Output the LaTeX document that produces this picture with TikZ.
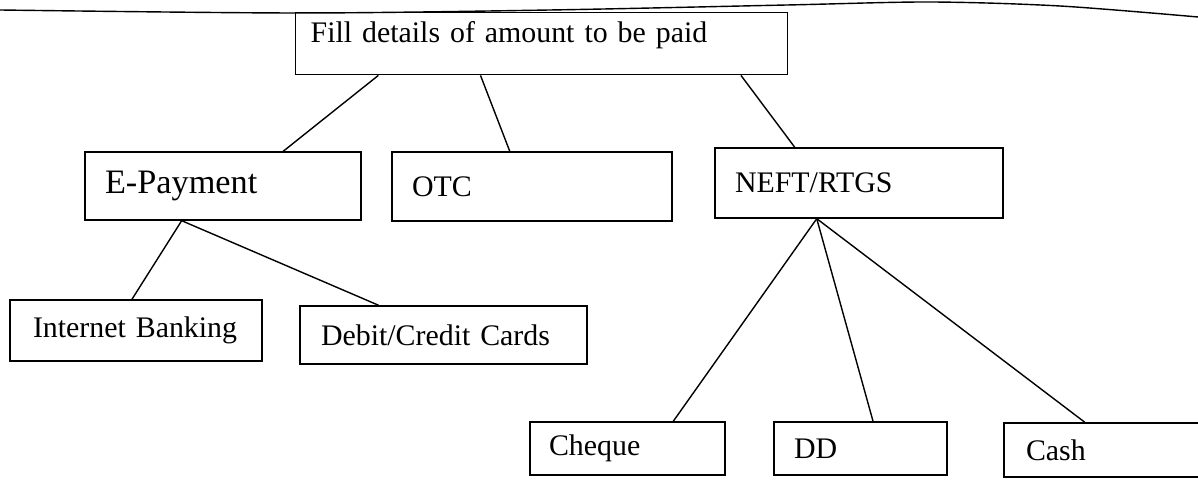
\documentclass[tikz,border=0pt]{standalone}
\usepackage{fontspec}
\setmainfont{Liberation Serif}
\usepackage{tikz}
\usetikzlibrary{calc}
\tikzstyle{block} = [draw,rectangle,line width=0.8pt,inner ysep=0pt,align=left,font=\fontsize{17}{20}\selectfont]
\tikzstyle{connector} = [line width=0.8pt]

\begin{document}
\begin{tikzpicture}[x=0.02cm,y=-0.02cm]
  \useasboundingbox (0,0) rectangle (1198,482);

  \node[block, anchor=north west, inner xsep=0.3cm, text width=9.24cm,
        text height=0.6cm, text depth=0.64cm] (root) at (295,12)
        {Fill details of amount to be paid};

  \node[block, inner xsep=0.4cm, text width=4.72cm, minimum height=1.36cm,
        font=\fontsize{19.5}{22}\selectfont] (epay) at (223,186) {E-Payment};
  \node[block, inner xsep=0.4cm, text width=4.8cm, minimum height=1.38cm] (otc) at (532,186.5) {OTC};
  \node[block, inner xsep=0.4cm, text width=4.96cm, minimum height=1.4cm] (neft) at (859,183) {NEFT/RTGS};

  \node[block, inner xsep=0.46cm, text width=4.12cm, minimum height=1.22cm] (inet) at (136,330.5) {Internet Banking};
  \node[block, inner xsep=0.42cm, text width=4.9cm, minimum height=1.16cm] (card) at (443.5,335) {Debit/Credit Cards};

  \node[block, inner xsep=0.38cm, text width=3.14cm, minimum height=1.06cm] (cheque) at (627.5,448.5) {Cheque};
  \node[block, inner xsep=0.4cm, text width=2.66cm, minimum height=1.06cm] (dd) at (860.5,448.5) {DD};
  \node[block, inner xsep=0.44cm, text width=3.44cm, minimum height=1.08cm] (cash) at (1112,450) {Cash};

% edge of the page
\draw [connector] plot[smooth] coordinates {(0,10) (297,13) (550,10) (787,5) (930,2) (1060,6) (1198,17)};

% now link the nodes
\draw [connector] ($(root.south west)!0.169!(root.south east)$) -- ($(epay.north west)!0.717!(epay.north east)$);
\draw [connector] ($(root.south west)!0.376!(root.south east)$) -- ($(otc.north west)!0.421!(otc.north east)$);
\draw [connector] ($(root.south west)!0.904!(root.south east)$) -- ($(neft.north west)!0.278!(neft.north east)$);
\draw [connector] ($(epay.south west)!0.351!(epay.south east)$) -- ($(inet.north west)!0.484!(inet.north east)$);
\draw [connector] ($(epay.south west)!0.351!(epay.south east)$) -- ($(card.north west)!0.275!(card.north east)$);
\draw [connector] ($(neft.south west)!0.354!(neft.south east)$) -- ($(cheque.north west)!0.733!(cheque.north east)$);
\draw [connector] ($(neft.south west)!0.354!(neft.south east)$) -- ($(dd.north west)!0.572!(dd.north east)$);
\draw [connector] ($(neft.south west)!0.354!(neft.south east)$) -- ($(cash.north west)!0.375!(cash.north east)$);
\end{tikzpicture}
\end{document}
